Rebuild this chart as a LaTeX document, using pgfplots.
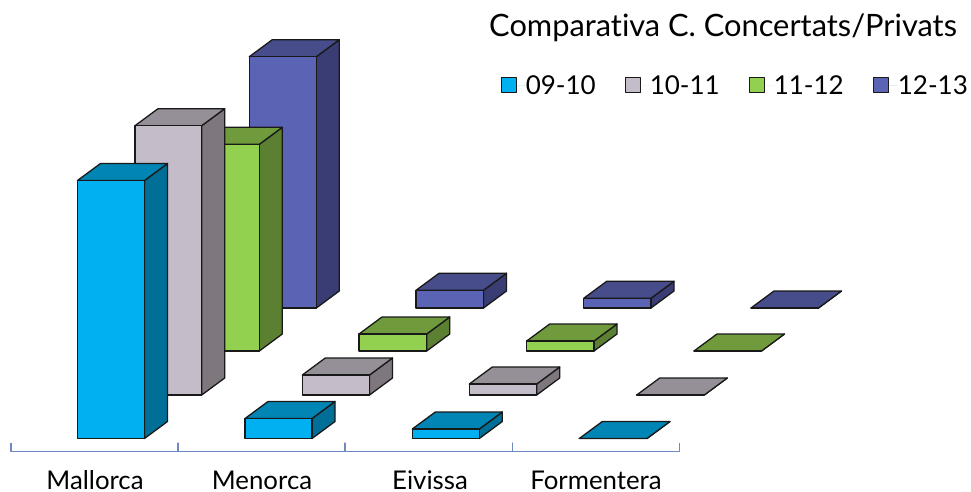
\documentclass[border=0pt]{standalone}
\usepackage{fontspec}
\setmainfont{Lato}[Ligatures=NoCommon]
\usepackage{pgfplots}
\pgfplotsset{compat=1.18}

\definecolor{aF}{HTML}{00B0F0}\definecolor{aT}{HTML}{0085B4}\definecolor{aS}{HTML}{006F98}
\definecolor{bF}{HTML}{C4BDC9}\definecolor{bT}{HTML}{959097}\definecolor{bS}{HTML}{7E787E}
\definecolor{cF}{HTML}{92D050}\definecolor{cT}{HTML}{6F9B3C}\definecolor{cS}{HTML}{5C8032}
\definecolor{dF}{HTML}{5B63B5}\definecolor{dT}{HTML}{474C8A}\definecolor{dS}{HTML}{393D74}
\definecolor{axisblue}{HTML}{7088C2}

\tikzset{labelnode/.style={anchor=base, inner sep=0pt, text depth=0pt, font=\fontsize{25.8}{30}\selectfont}}

% one box: series prefix, left, right, base, top (picture pixels)
\newcommand{\drawbox}[5]{%
  \pgfmathsetmacro{\xr}{#3+23}%
  \pgfmathsetmacro{\xl}{#2+23}%
  \pgfmathsetmacro{\yb}{#4-17}%
  \pgfmathsetmacro{\yt}{#5-17}%
  \addplot[forget plot, fill=#1S] coordinates {(#3,#4)(\xr,\yb)(\xr,\yt)(#3,#5)} -- cycle;
  \addplot[forget plot, fill=#1T] coordinates {(#2,#5)(#3,#5)(\xr,\yt)(\xl,\yt)} -- cycle;
  \addplot[forget plot, fill=#1F] coordinates {(#2,#4)(#3,#4)(#3,#5)(#2,#5)} -- cycle;
}

\begin{document}
\begin{tikzpicture}
\begin{axis}[
    scale only axis, width=971pt, height=492pt,
    xmin=0, xmax=971, ymin=0, ymax=492, y dir=reverse,
    axis lines=none, clip=false,
    every axis plot/.append style={draw=black!90, line width=1.3pt, line join=round, mark=none},
    legend columns=4,
    legend style={at={(axis cs:501,73)}, anchor=north west, draw=none, fill=none,
        font=\fontsize{26}{30}\selectfont, inner sep=0pt, nodes={inner xsep=0pt},
        /tikz/every even column/.append style={column sep=29.5pt}},
    legend image code/.code={
        \draw[draw=black!90, line width=1.1pt, #1] (0pt,-7.5pt) rectangle (15pt,7.5pt);
        \path[draw=none] (0pt,0pt) -- (24pt,0pt);},
]
% keeps the whole 971x492 frame in the picture
\addplot[forget plot, draw=none, line width=0pt] coordinates {(0,0)(971,492)};
% 12-13
\drawbox{d}{249.3}{316.3}{308}{56.7}
\drawbox{d}{416}{483.5}{308}{290.3}
\drawbox{d}{583.7}{651}{308}{298.3}
\drawbox{d}{751}{818.5}{308}{308}
% 11-12
\drawbox{c}{192}{259.3}{351}{144.3}
\drawbox{c}{359}{426.7}{351}{334}
\drawbox{c}{526.7}{594}{351}{341}
\drawbox{c}{694}{761.5}{351}{351}
% 10-11
\drawbox{b}{135}{201.7}{395}{125.7}
\drawbox{b}{302.3}{369.5}{395}{375}
\drawbox{b}{469.3}{536.7}{395}{384}
\drawbox{b}{636.7}{704.3}{395}{395}
% 09-10
\drawbox{a}{77.5}{144.5}{438.5}{180.5}
\drawbox{a}{245}{312}{438.5}{418.5}
\drawbox{a}{412.3}{479.3}{438.5}{429}
\drawbox{a}{579.3}{647}{438.5}{438.5}
% category axis
\addplot[forget plot, draw=axisblue, line width=1.3pt] coordinates {
    (11,443)(11,451.3)(178,451.3)(178,443)(178,451.3)(345,451.3)(345,443)(345,451.3)
    (512.5,451.3)(512.5,443)(512.5,451.3)(679.5,451.3)(679.5,443)};
\addlegendimage{fill=aF}\addlegendentry{09-10}
\addlegendimage{fill=bF}\addlegendentry{10-11}
\addlegendimage{fill=cF}\addlegendentry{11-12}
\addlegendimage{fill=dF}\addlegendentry{12-13}
\node[labelnode] at (axis cs:95,489) {Mallorca};
\node[labelnode] at (axis cs:262,489) {Menorca};
\node[labelnode] at (axis cs:430,489) {Eivissa};
\node[labelnode] at (axis cs:596,489) {Formentera};
\node[anchor=base west, inner sep=0pt, font=\fontsize{30.8}{34}\selectfont] at (axis cs:489,37) {Comparativa C. Concertats/Privats};
\end{axis}
\end{tikzpicture}
\end{document}
